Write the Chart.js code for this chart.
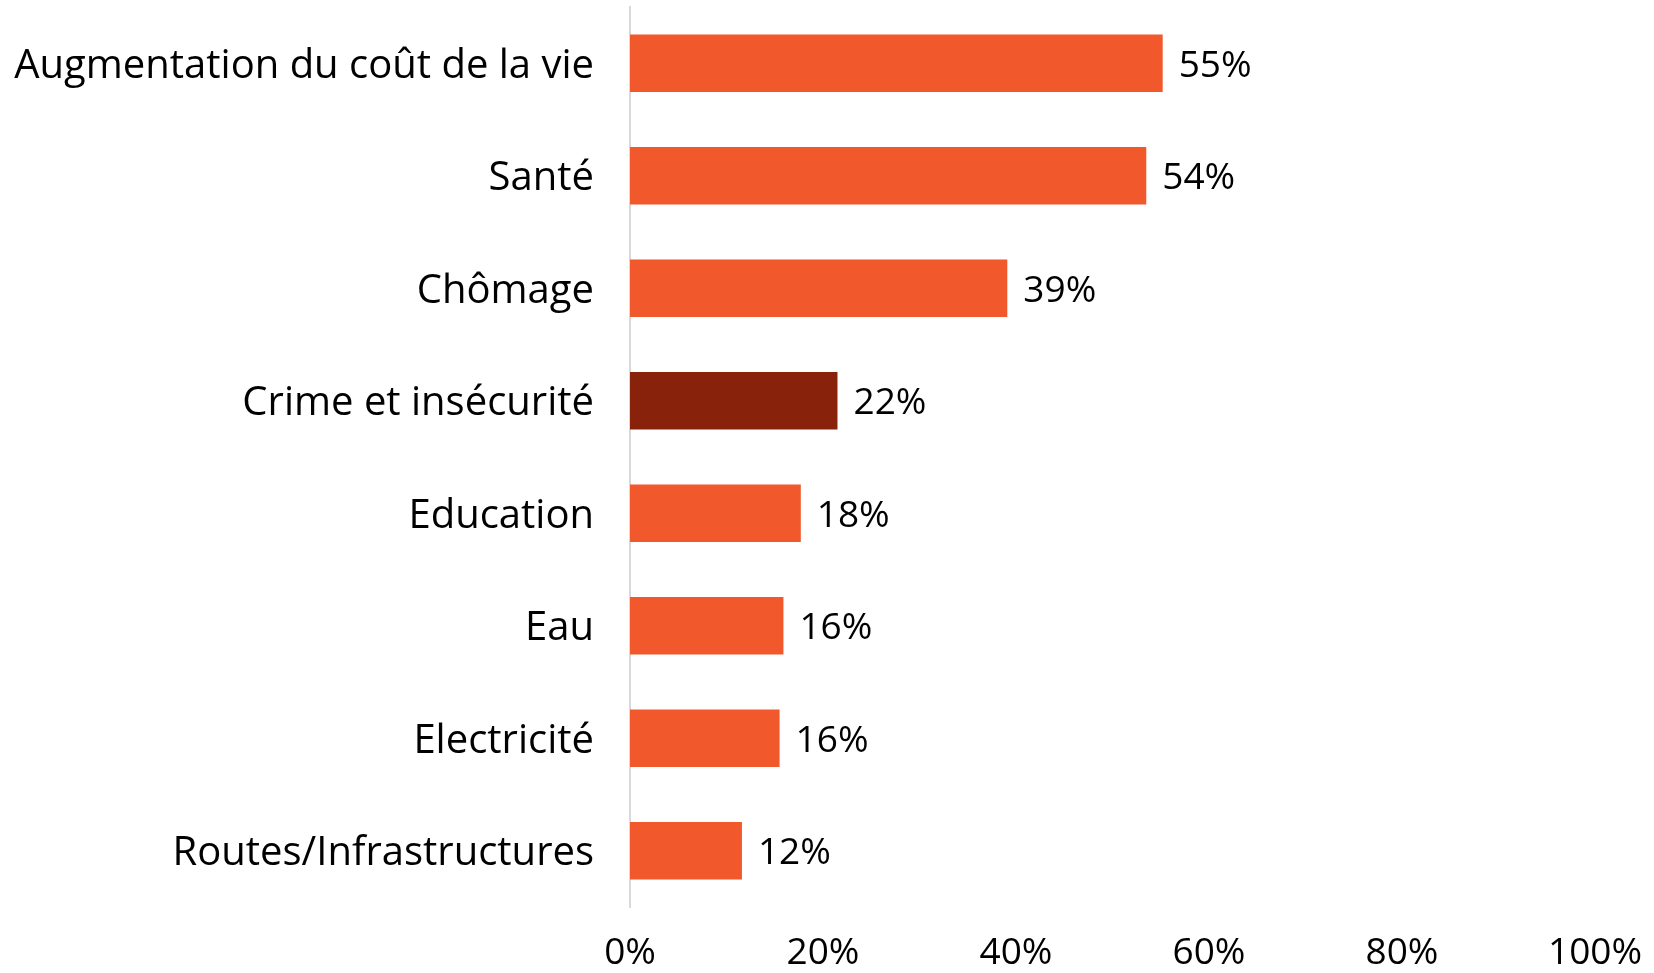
<!DOCTYPE html>
<html>
<head>
<meta charset="utf-8">
<script src="https://cdn.jsdelivr.net/npm/chart.js@4"></script>
<style>
  html, body { margin: 0; padding: 0; background: #fff; overflow: hidden; }
  #wrap { width: 1654px; height: 973px; }
</style>
</head>
<body>
<div id="wrap"><canvas id="bar-chart"></canvas></div>
<script>
// values (bar lengths), labels show rounded values
var categories = [
    "Augmentation du coût de la vie",
    "Santé",
    "Chômage",
    "Crime et insécurité",
    "Education",
    "Eau",
    "Electricité",
    "Routes/Infrastructures"
];
var values = [55.2, 53.5, 39.1, 21.5, 17.7, 15.9, 15.5, 11.6];
var xTicks = [0, 20, 40, 60, 80, 100];

var orange = "#F1582B";
var darkRed = "#88220A";
var barColors = categories.map(function (c) {
    return c === "Crime et insécurité" ? darkRed : orange;
});

var fontFamily = "'Open Sans', sans-serif";

// draws the "55%" labels after the bars
var valueLabels = {
    id: "valueLabels",
    afterDatasetsDraw: function (chart) {
        var ctx = chart.ctx;
        var meta = chart.getDatasetMeta(0);
        ctx.save();
        ctx.font = "37px " + fontFamily;
        ctx.fillStyle = "#000";
        ctx.textAlign = "left";
        ctx.textBaseline = "middle";
        meta.data.forEach(function (bar, i) {
            ctx.fillText(Math.round(values[i]) + "%", bar.x + 16, bar.y + 3);
        });
        ctx.restore();
    }
};

renderChart();

function renderChart() {
    new Chart(document.getElementById("bar-chart"), {
        type: "bar",
        data: {
            labels: categories,
            datasets: [{
                data: values,
                backgroundColor: barColors,
                barPercentage: 0.51,
                categoryPercentage: 1.0
            }]
        },
        options: {
            indexAxis: "y",
            responsive: true,
            maintainAspectRatio: false,
            animation: false,
            layout: { padding: { top: 7, right: 59, left: 0, bottom: 0 } },
            plugins: {
                legend: { display: false },
                tooltip: { enabled: false }
            },
            scales: {
                x: {
                    min: 0,
                    max: 100,
                    afterBuildTicks: function (scale) {
                        scale.ticks = xTicks.map(function (v) { return { value: v }; });
                    },
                    afterFit: function (scale) {
                        scale.height = 66;
                        scale.paddingLeft = 0;
                        scale.paddingRight = 0;
                    },
                    grid: { display: false, drawTicks: false },
                    border: { display: false },
                    ticks: {
                        padding: 24,
                        color: "#000",
                        font: { family: fontFamily, size: 37 },
                        callback: function (v) { return v + "%"; }
                    }
                },
                y: {
                    afterFit: function (scale) {
                        scale.width = 630;
                        scale.paddingTop = 0;
                        scale.paddingBottom = 0;
                    },
                    grid: { display: false, drawTicks: false },
                    border: { display: true, color: "#D9D9D9", width: 2 },
                    ticks: {
                        padding: 36,
                        labelOffset: 3,
                        color: "#000",
                        font: { family: fontFamily, size: 40 }
                    }
                }
            }
        },
        plugins: [valueLabels]
    });
}
</script>
</body>
</html>
